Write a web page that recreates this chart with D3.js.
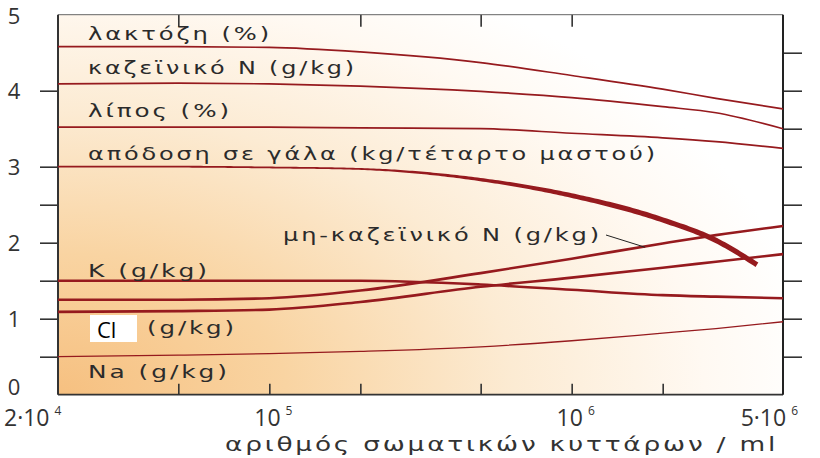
<!DOCTYPE html>
<html><head><meta charset="utf-8">
<script src="https://cdn.jsdelivr.net/npm/d3@7"></script>
<style>body{margin:0;background:#fff}svg{display:block}</style>
</head><body>
<svg id="c" width="820" height="458"></svg>
<script>
// ---- data ----
const cellCounts = [2e4, 5e4, 1e5, 2e5, 5e5, 1e6, 2e6, 3e6, 5e6];
const lactose    = [4.58, 4.58, 4.57, 4.51, 4.37, 4.20, 4.02, 3.90, 3.76];
const caseinN    = [4.09, 4.10, 4.09, 4.06, 3.99, 3.91, 3.79, 3.71, 3.50];
const fat        = [3.52, 3.52, 3.52, 3.51, 3.50, 3.44, 3.38, 3.33, 3.24];
const potassium  = [1.50, 1.50, 1.50, 1.50, 1.45, 1.38, 1.31, 1.29, 1.27];
const nonCaseinN = [1.25, 1.25, 1.27, 1.37, 1.60, 1.79, 1.99, 2.10, 2.22];
const chloride   = [1.09, 1.10, 1.12, 1.22, 1.42, 1.54, 1.67, 1.75, 1.85];
const sodium     = [0.50, 0.52, 0.54, 0.57, 0.63, 0.71, 0.81, 0.87, 0.96];
const yieldCells = [2e4, 5e4, 1e5, 2e5, 5e5, 1e6, 2e6, 3e6, 4.1e6];
const milkYield  = [3.00, 3.00, 2.99, 2.97, 2.83, 2.62, 2.30, 2.03, 1.71];

const yTicksLeft  = [0.5, 1, 1.5, 2, 2.5, 3, 4];
const yTicksRight = [0.5, 1, 1.5, 2, 2.5, 3, 3.5, 4, 4.5];
const yLabels = [0, 1, 2, 3, 4, 5];
const xTicksBottom = [5e4, 1e5, 2e5, 5e5, 1e6, 2e6];
const xTicksTop = [5e4, 2e5, 5e5, 1e6];
const xLabels = [{v:2e4, pre:"2·10", exp:"4"}, {v:1e5, pre:"10", exp:"5"}, {v:1e6, pre:"10", exp:"6"}, {v:5e6, pre:"5·10", exp:"6"}];
const xTitle = "αριθμός σωματικών κυττάρων / ml";
const seriesLabels = [
  "λακτόζη (%)", "καζεϊνικό N (g/kg)", "λίπος (%)", "απόδοση σε γάλα (kg/τέταρτο μαστού)",
  "μη-καζεϊνικό N (g/kg)", "K (g/kg)", "(g/kg)", "Na (g/kg)"
];

// ---- layout ----
const L = 58, R = 783, T = 14.7, B = 394.7;
const svg = d3.select("#c");
const x = d3.scaleLog().domain([2e4, 5e6]).range([L, R]);
const y = d3.scaleLinear().domain([0, 5]).range([B, T]);

const defs = svg.append("defs");
const g = defs.append("radialGradient").attr("id","bg")
  .attr("gradientUnits","userSpaceOnUse").attr("cx", L).attr("cy", B).attr("r", 760)
  .attr("gradientTransform", `translate(${L},${B}) scale(1,0.62) translate(${-L},${-B})`);
g.append("stop").attr("offset","0").attr("stop-color","#f6c080");
g.append("stop").attr("offset","0.3").attr("stop-color","#f9d4a2");
g.append("stop").attr("offset","0.6").attr("stop-color","#fcebd3");
g.append("stop").attr("offset","0.85").attr("stop-color","#fff9f2");
g.append("stop").attr("offset","1").attr("stop-color","#ffffff");

svg.append("rect").attr("x", L).attr("y", T).attr("width", R-L).attr("height", B-T).attr("fill","url(#bg)");

// axes
const axL = svg.append("g").attr("transform",`translate(${L},0)`)
  .call(d3.axisLeft(y).tickValues(yTicksLeft).tickSize(18).tickFormat(""));
const axR = svg.append("g").attr("transform",`translate(${R},0)`)
  .call(d3.axisRight(y).tickValues(yTicksRight).tickSize(19).tickFormat(""));
const axB = svg.append("g").attr("transform",`translate(0,${B})`)
  .call(d3.axisBottom(x).tickValues(xTicksBottom).tickSize(-11).tickFormat(""));
const axT = svg.append("g").attr("transform",`translate(0,${T})`)
  .call(d3.axisTop(x).tickValues(xTicksTop).tickSize(-12).tickFormat(""));
[axL, axR, axB, axT].forEach(a => { a.select(".domain").remove(); a.selectAll("line").attr("stroke","#333").attr("stroke-width",1.6); });

// frame
svg.append("line").attr("x1",L).attr("x2",R).attr("y1",T).attr("y2",T).attr("stroke","#666").attr("stroke-width",1);
svg.append("line").attr("x1",L).attr("x2",R).attr("y1",B).attr("y2",B).attr("stroke","#333").attr("stroke-width",1.8);
svg.append("line").attr("x1",L).attr("x2",L).attr("y1",T).attr("y2",B).attr("stroke","#333").attr("stroke-width",2);
svg.append("line").attr("x1",R).attr("x2",R).attr("y1",T).attr("y2",B).attr("stroke","#222").attr("stroke-width",2);

// y labels
svg.append("g").selectAll("text").data(yLabels).join("text")
  .attr("x", 14).attr("y", d => y(d) - (d === 0 ? 7.5 : 0) + (d === 5 ? 1 : 0)).attr("dy","0.36em").attr("text-anchor","middle")
  .attr("font-family","Open Sans, sans-serif").attr("font-size",22).attr("fill","#333")
  .text(d => d);

// x labels
const xl = svg.append("g").selectAll("text").data(xLabels).join("text")
  .attr("x", d => d.v === 2e4 ? 4 : d.v === 5e6 ? 798 : x(d.v) + 4)
  .attr("y", 426)
  .attr("text-anchor", d => d.v === 2e4 ? "start" : d.v === 5e6 ? "end" : "middle")
  .attr("font-family","Open Sans, sans-serif").attr("font-size",23).attr("fill","#333");
xl.append("tspan").text(d => d.pre);
xl.append("tspan").attr("dx",5).attr("dy",-11).attr("font-size",12).text(d => d.exp);

svg.append("text").attr("x", 225).attr("y", 451)
  .attr("font-family","DejaVu Sans, sans-serif").attr("font-size",19).attr("letter-spacing",2)
  .attr("textLength", 553).attr("lengthAdjust","spacingAndGlyphs")
  .attr("fill","#333").text(xTitle);

// lines
const color = "#961a1e";
const line = d3.line().x(d => x(d[0])).y(d => y(d[1])).curve(d3.curveMonotoneX);
const series = [
  {c: cellCounts, v: lactose, w: 1.7},
  {c: cellCounts, v: caseinN, w: 1.7},
  {c: cellCounts, v: fat, w: 1.7},
  {c: cellCounts, v: potassium, w: 2.6},
  {c: cellCounts, v: nonCaseinN, w: 2.6},
  {c: cellCounts, v: chloride, w: 2.6},
  {c: cellCounts, v: sodium, w: 1.3},
];
svg.append("g").selectAll("path").data(series).join("path")
  .attr("d", s => line(s.c.map((c, i) => [c, s.v[i]])))
  .attr("fill","none").attr("stroke", color).attr("stroke-width", s => s.w);

// milk yield: tapering thick line (built from the same line path)
const hidden = svg.append("path").attr("d", line(yieldCells.map((c, i) => [c, milkYield[i]])))
  .attr("fill","none").attr("stroke","none");
const node = hidden.node(), len = node.getTotalLength();
const N = 240, left = [], right = [];
for (let i = 0; i <= N; i++) {
  const l = len * i / N;
  const p = node.getPointAtLength(l);
  const p2 = node.getPointAtLength(Math.min(len, l + 0.5)), p1 = node.getPointAtLength(Math.max(0, l - 0.5));
  let dx = p2.x - p1.x, dy = p2.y - p1.y; const m = Math.hypot(dx, dy) || 1; dx /= m; dy /= m;
  const t = Math.max(0, Math.min(1, (p.x - 330) / 330));
  const hw = (1.8 + 3.4 * t * t * (3 - 2 * t)) / 2;
  left.push([p.x - dy * hw, p.y + dx * hw]);
  right.push([p.x + dy * hw, p.y - dx * hw]);
}
svg.append("path").attr("d", "M" + left.concat(right.reverse()).map(p => p.join(",")).join("L") + "Z")
  .attr("fill", color);
hidden.remove();

// labels
const labelPos = [
  {x:88, y:40, w:184}, {x:88, y:74, w:269}, {x:88, y:117, w:144}, {x:88, y:160, w:570},
  {x:283, y:241, w:319}, {x:88, y:277, w:122}, {x:147, y:334, w:90}, {x:88, y:378, w:142}
];
svg.append("g").selectAll("text").data(seriesLabels).join("text")
  .attr("x", (d, i) => labelPos[i].x).attr("y", (d, i) => labelPos[i].y)
  .attr("textLength", (d, i) => labelPos[i].w).attr("lengthAdjust","spacingAndGlyphs")
  .attr("font-family","DejaVu Sans, sans-serif").attr("font-size",18.5).attr("letter-spacing",2.2)
  .attr("fill","#2b2b2b").text(d => d);

// leader line for non-casein N
svg.append("line").attr("x1",606).attr("y1",235).attr("x2",x(1.75e6)).attr("y2",y(1.94))
  .attr("stroke","#222").attr("stroke-width",1);

// Cl box
svg.append("rect").attr("x",90).attr("y",315).attr("width",47).attr("height",27).attr("fill","#fff");
svg.append("text").attr("x",97).attr("y",338).attr("font-family","Open Sans, sans-serif")
  .attr("font-size",22).attr("fill","#000").text("Cl");
</script>
</body></html>
